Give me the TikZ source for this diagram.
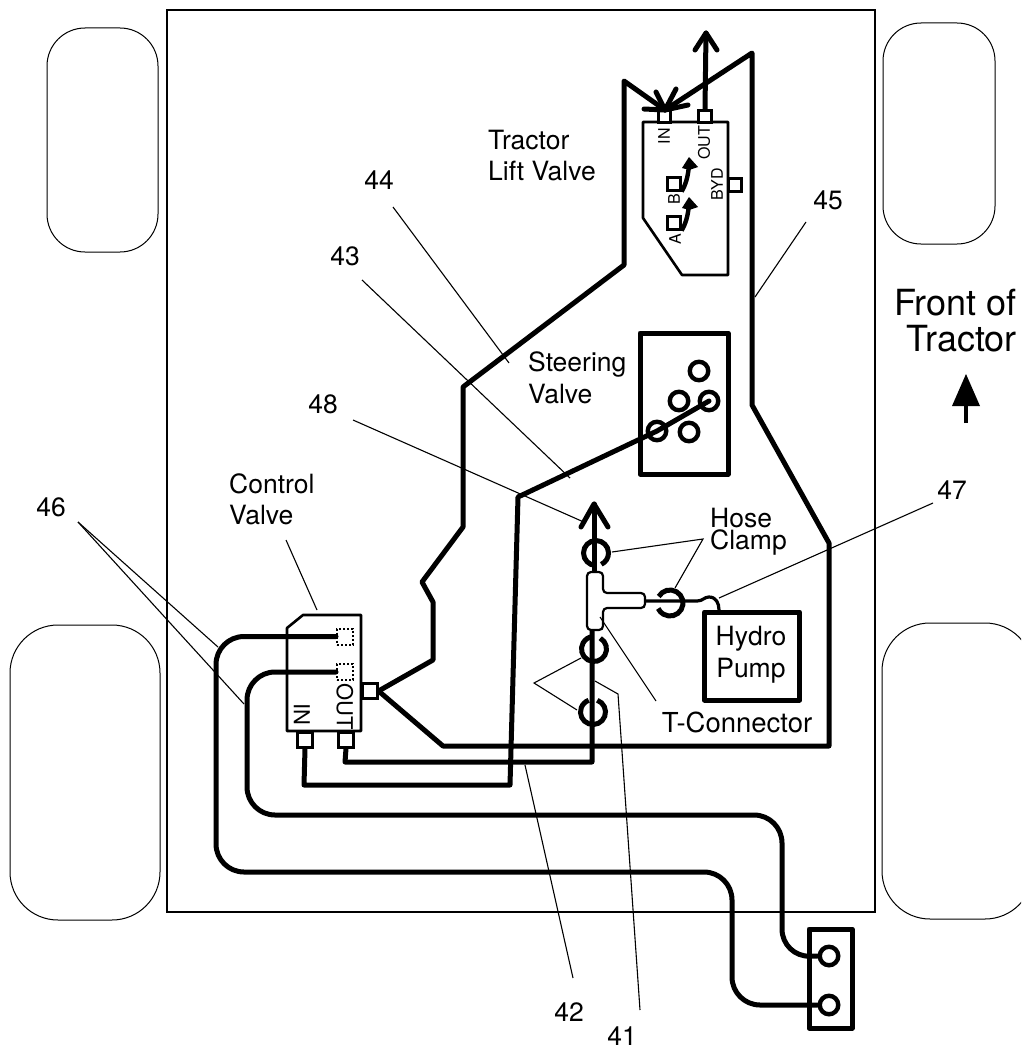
\documentclass[tikz,border=0pt]{standalone}
\usepackage{fontspec}
\setmainfont{TeX Gyre Heros}
\tikzset{
  frameline/.style={draw=black,line width=2.4pt},
  wheel/.style={draw=black,line width=1pt,rounded corners=38pt},
  bigwheel/.style={draw=black,line width=1pt,rounded corners=48pt},
  hose/.style={draw=black,line width=5pt,line join=round,line cap=round},
  thinhose/.style={draw=black,line width=3.2pt,line cap=round},
  leader/.style={draw=black,line width=1.1pt},
  valve/.style={draw=black,line width=2.6pt,line join=round},
  heavybox/.style={draw=black,line width=5pt,line join=round,fill=white},
  portbox/.style={draw=black,line width=2.6pt,fill=white,rectangle,minimum size=12.5pt,inner sep=0pt},
  bigport/.style={portbox,minimum size=14.5pt},
  dotport/.style={draw=black,line width=2pt,dotted,rectangle,minimum size=16pt,inner sep=0pt},
  fitting/.style={circle,draw=black,line width=4.4pt,minimum size=18.5pt,inner sep=0pt},
  clampring/.style={draw=black,line width=5pt,line cap=butt},
  lbl/.style={font=\fontsize{26.5}{28}\selectfont,inner sep=0pt,anchor=base west},
  num/.style={font=\fontsize{26.5}{28}\selectfont,inner sep=0pt,anchor=base},
  big/.style={font=\fontsize{36}{38}\selectfont,inner sep=0pt,anchor=base east},
  small/.style={font=\fontsize{16}{18}\selectfont,inner sep=0pt},
  mid/.style={font=\fontsize{22}{24}\selectfont,inner sep=0pt},
}
\begin{document}
\begin{tikzpicture}[x=1pt,y=-1pt]
\useasboundingbox (0,0) rectangle (1021,1049);
\begin{scope}
\clip (0,0) rectangle (1021,1049);
\draw[wheel] (47,28) rectangle (158,252);
\draw[bigwheel] (10,625) rectangle (160,920);
\draw[wheel] (883,23) rectangle (995,244);
\draw[bigwheel] (882,623) rectangle (1033,919);
\end{scope}
\draw[frameline] (167,10) rectangle (875,912);

% lift valve
\draw[valve,fill=white] (643,122) -- (728,122) -- (728,275) -- (682,275) -- (643,218) -- cycle;
\coordinate (intip) at (665,110);
\coordinate (outtip) at (706,33);
\node[portbox] (liftin) at (664.5,116.5) {};
\node[portbox] (liftout) at (705,116.5) {};
\node[portbox] (liftbyd) at (735,185) {};
\node[portbox] (lifta) at (674,223) {};
\node[portbox] (liftb) at (674,184) {};
\node[small,rotate=90] at (664,136) {IN};
\node[small,rotate=90] at (704,143) {OUT};
\node[small,rotate=90] at (717,184) {BYD};
\node[small,rotate=90] at (674,199) {B};
\node[small,rotate=90] at (675,239) {A};
\draw[hose] (liftout.north) -- (outtip);
\draw[hose] (695,50) -- (outtip) -- (717,50);
\draw[hose] (644,109) -- (intip) -- (688,105);
\draw[hose] (656,92) -- (intip) -- (676,89);
\draw[hose,line width=4.4pt,line cap=butt] (liftb.south east) .. controls (685,186) and (688,178) .. (689,165);
\draw[hose,line width=4.4pt,line cap=butt] (lifta.south east) .. controls (685,225) and (688,217) .. (689,204);
\fill (689,157) -- (698,167) -- (689,170) -- (682,168) -- cycle;
\fill (689,197) -- (698,207) -- (689,210) -- (682,208) -- cycle;

% steering valve
\draw[heavybox] (640,333) rectangle (728,474);
\node[fitting] (s1) at (699,371) {};
\node[fitting] (s2) at (679,401) {};
\node[fitting] (s3) at (709,401) {};
\node[fitting] (s4) at (657,431) {};
\node[fitting] (s5) at (689,432) {};

% control valve
\draw[valve,fill=white] (287,628) -- (303,615) -- (361,615) -- (361,731) -- (287,731) -- cycle;
\node[bigport] (cin) at (305,740) {};
\node[bigport] (cout) at (346,740) {};
\node[bigport] (cside) at (370,691) {};
\node[dotport] (dp1) at (345,636.5) {};
\node[dotport] (dp2) at (345,672) {};
\node[mid,rotate=-90] at (302,714) {IN};
\node[mid,rotate=-90] at (345,707) {OUT};

% hoses
\draw[hose] (intip) -- (624,81) -- (624,265) -- (463,387) -- (463,527) -- (422,582) -- (433,602) -- (433,660) -- (cside.east);
\draw[hose] (intip) -- (752,53) -- (752,405) -- (829,543) -- (829,746) -- (443,746) -- (cside.east);
\draw[hose] (s3.center) -- (s4.center) -- (518,497) -- (510,785) -- (304,785) -- (cin.south);
\draw[hose] (cout.south) -- (345,762) -- (592,762) -- (592,628);

% remote block
\draw[heavybox] (809,929) rectangle (852,1028);
\node[fitting] (b1) at (829,956) {};
\node[fitting] (b2) at (829,1005) {};
\draw[hose,rounded corners=28pt] (dp1.west) -- (216,636.5) -- (216,872) -- (732,872) -- (732,1005) -- (b2.west);
\draw[hose,rounded corners=28pt] (dp2.west) -- (247,672) -- (247,815) -- (782,815) -- (782,957) -- (b1.west);

% top arrow + T
\coordinate (ttip) at (594,504);
\draw[hose] (594,575) -- (ttip);
\draw[hose] (581,527) -- (ttip) -- (608,527);
\node[heavybox,rectangle,minimum width=95pt,minimum height=88pt,inner sep=0pt] (pump) at (752,656) {};
\draw[thinhose] (646,601) -- (697,601) .. controls (703,601) and (704,597) .. (709,597) .. controls (716,597) and (719,603) .. (719,610);
\draw[draw=black,line width=2.2pt,fill=white,rounded corners=4pt] (587,572) -- (603,572) -- (603,593) -- (645,593) -- (645,608) -- (603,608) -- (603,630) -- (587,630) -- cycle;

% clamps (y axis points down, so angles are mirrored)
\draw[clampring] (596,553) ++(90:12.5) arc (90:425:12.5);
\draw[clampring] (670,603) ++(-150:13) arc (-150:155:13);
\draw[clampring] (594,649) ++(-60:12.5) arc (-60:265:12.5);
\draw[clampring] (593,712) ++(-70:12.5) arc (-70:250:12.5);

% labels
\node[num] at (751,645) {Hydro};
\node[num] at (751,677) {Pump};
\node[lbl] at (488,149) {Tractor};
\node[lbl] at (488,180) {Lift Valve};
\node[lbl] at (528,371) {Steering};
\node[lbl] at (528,403) {Valve};
\node[lbl] at (229,493) {Control};
\node[lbl] at (229,524) {Valve};
\node[lbl] at (710,527) {Hose};
\node[lbl] at (710,549) {Clamp};
\node[num,font=\fontsize{27.5}{29}\selectfont] (tc) at (737,732) {T-Connector};
\node[num] (n44) at (379,189) {44};
\node[num] (n43) at (345,265) {43};
\node[num] (n48) at (323,413) {48};
\node[num] (n45) at (828,209) {45};
\node[num] (n46) at (51,516) {46};
\node[num] (n47) at (952,499) {47};
\node[num] (n42) at (569,1021) {42};
\node[num] (n41) at (622,1045) {41};
\node[big] at (1017,315) {Front of};
\node[big] at (1017,351) {Tractor};
\draw[black,line width=3.6pt] (966,423) -- (966,398);
\fill (966,374) -- (980,406) -- (952,406) -- cycle;

% leaders
\coordinate (a46) at (78,522);
\draw[leader] (a46) -- (218,647);
\draw[leader] (a46) -- (244,704);
\draw[leader] (393,207) -- (509,363);
\draw[leader] (362,280) -- (570,478);
\draw[leader] (353,420) -- (586,523);
\draw[leader] (806,222) -- (755,297);
\draw[leader] (933,503) -- (719,598);
\draw[leader] (286,540) -- (317,610);
\coordinate (hc) at (703,539);
\draw[leader] (612,552) -- (hc) -- (675,588);
\draw[leader] (600,617) -- (656,701);
\draw[leader] (573,978) -- (525,765);
\draw[leader] (595,681) -- (618,694) -- (640,1010);
\coordinate (a41) at (534,683);
\draw[leader] (581,658) -- (a41) -- (577,710);
\end{tikzpicture}
\end{document}
